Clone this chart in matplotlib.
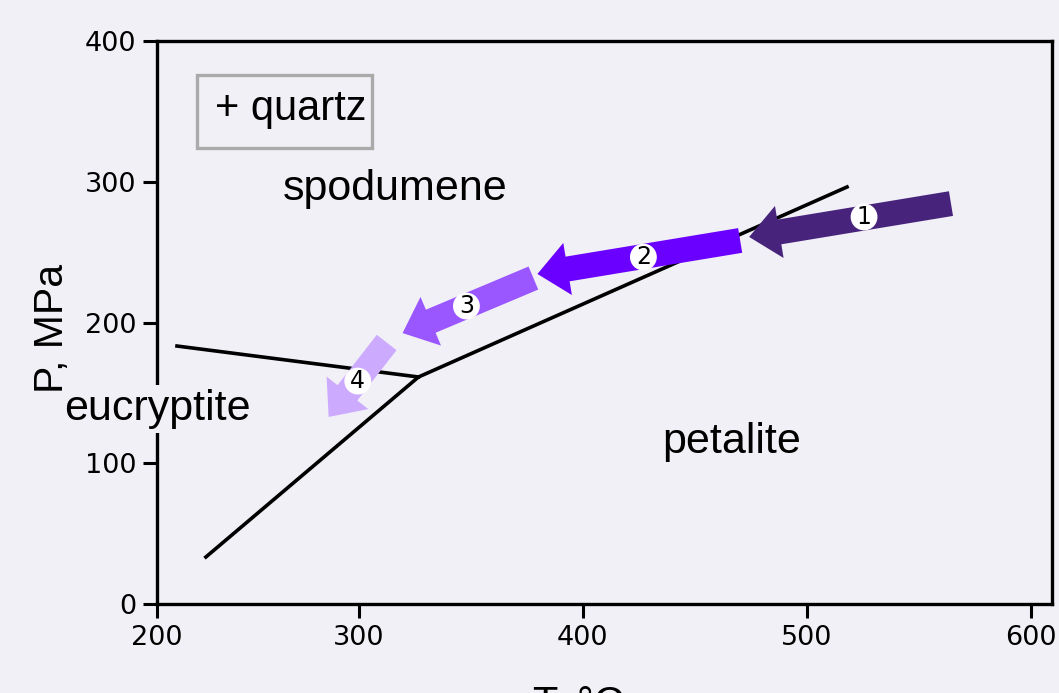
import matplotlib.pyplot as plt
from matplotlib.patches import FancyArrowPatch, Rectangle

bg = "#f1f0f7"

# phase boundary lines (T, P)
boundary_main_T = [231.8, 326.7, 518.0]
boundary_main_P = [33.4, 161.3, 296.3]
boundary_eu_T = [218.9, 326.7]
boundary_eu_P = [183.3, 161.3]

# cooling path arrows: start T, start P, end T, end P
arrow_start_T = [564.4, 470.3, 378.0, 312.5]
arrow_start_P = [284.5, 258.3, 231.6, 185.8]
arrow_end_T = [474.3, 379.8, 319.6, 286.6]
arrow_end_P = [260.8, 234.5, 192.5, 132.9]
arrow_colors = ["#47237b", "#6a00ff", "#9a56ff", "#ccaafe"]
arrow_labels = ["1", "2", "3", "4"]
label_T = [525.6, 427.1, 348.1, 299.6]
label_P = [275.0, 246.5, 211.7, 158.4]

# field names
field_names = ["spodumene", "petalite", "eucryptite"]
field_T = [316.5, 466.7, 210.0]
field_P = [295.0, 115.0, 138.5]

tick_pos = [210, 300, 400, 500, 600]
tick_labels = ["200", "300", "400", "500", "600"]
yticks = [0, 100, 200, 300, 400]

fig = plt.figure(figsize=(10.59, 6.93), dpi=100, facecolor=bg)
ax = fig.add_axes([0.1483, 0.1284, 0.8451, 0.8124], facecolor=bg)

ax.plot(boundary_main_T, boundary_main_P, color="black", lw=2.6, zorder=2)
ax.plot(boundary_eu_T, boundary_eu_P, color="black", lw=2.6, zorder=2)

for i in range(4):
    arr = FancyArrowPatch((arrow_start_T[i], arrow_start_P[i]),
                          (arrow_end_T[i], arrow_end_P[i]),
                          arrowstyle="simple,head_length=22,head_width=38,tail_width=18",
                          mutation_scale=1, shrinkA=0, shrinkB=0,
                          color=arrow_colors[i], lw=0, zorder=3)
    ax.add_patch(arr)
    ax.text(label_T[i], label_P[i], arrow_labels[i], ha="center", va="center",
            fontsize=17, color="black", zorder=4,
            bbox=dict(boxstyle="circle,pad=0.06", fc="white", ec="none"))

for name, t, p in zip(field_names, field_T, field_P):
    kw = {}
    if name == "eucryptite":
        kw["bbox"] = dict(boxstyle="square,pad=0.1", fc=bg, ec="none")
    ax.text(t, p, name, ha="center", va="center", fontsize=31,
            family="Liberation Sans", zorder=5, **kw)

# "+ quartz" note in a grey frame
ax.text(269.7, 352, "+ quartz", ha="center", va="center", fontsize=30,
        family="Liberation Sans", zorder=5)
ax.add_patch(Rectangle((0.0447, 0.810), 0.1955, 0.1297, transform=ax.transAxes,
                       fc="none", ec="#aaaaaa", lw=2.4, zorder=5))

ax.set_xlim(210, 609.5)
ax.set_ylim(0, 400)
ax.set_xticks(tick_pos)
ax.set_xticklabels(tick_labels)
ax.set_yticks(yticks)
ax.tick_params(length=10, width=2.2, labelsize=19.5, pad=5)
for s in ax.spines.values():
    s.set_linewidth(2.4)

fig.text(52 / 1059, 1 - 328 / 693, "P, MPa", rotation=90, ha="center", va="center",
         fontsize=29.5, family="Liberation Sans")
fig.text(578 / 1059, -0.032, "T, °C", ha="center", va="baseline",
         fontsize=30, family="Liberation Sans")

fig.savefig("out.png", dpi=100, facecolor=bg)
